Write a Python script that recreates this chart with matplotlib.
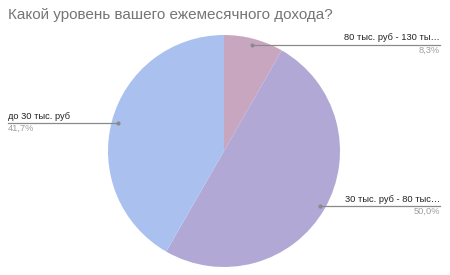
import numpy as np
import matplotlib
matplotlib.use("Agg")
import matplotlib.pyplot as plt

plt.rcParams['font.family'] = ['Liberation Sans', 'DejaVu Sans']

title = "Какой уровень вашего ежемесячного дохода?"
labels = ["80 тыс. руб - 130 ты…", "30 тыс. руб - 80 тыс…", "до 30 тыс. руб"]
values = [8.3, 50.0, 41.7]
pct_labels = ["8,3%", "50,0%", "41,7%"]
colors = ["#c9a6bf", "#b2a8d6", "#aac1ef"]

W, H = 450, 275
fig = plt.figure(figsize=(W / 100, H / 100), dpi=100)

# pie centre (224, 151) px from top, radius 116 px
cx, cy, r = 224, H - 151, 116
ax = fig.add_axes([(cx - r) / W, (cy - r) / H, 2 * r / W, 2 * r / H])
wedges, _ = ax.pie(values, colors=colors, startangle=90, counterclock=False,
                   radius=1, wedgeprops=dict(linewidth=0))
ax.set_xlim(-1, 1)
ax.set_ylim(-1, 1)
ax.set_aspect('equal')
ax.axis('off')

fig.text(8 / W, 1 - 15 / H, title, fontsize=11, color="#757575", va="center", ha="left")

for w, lab, pct in zip(wedges, labels, pct_labels):
    ang = np.deg2rad((w.theta1 + w.theta2) / 2)
    x0, y0 = 0.95 * np.cos(ang), 0.95 * np.sin(ang)
    right = x0 > 0
    xe_px = 440 if right else 8
    xe = (xe_px - cx) / r
    ax.plot([x0, xe], [y0, y0], color="#8a8a8a", lw=0.9, clip_on=False)
    ax.plot([x0], [y0], "o", color="#8a8a8a", ms=2, clip_on=False)
    ha = "right" if right else "left"
    ax.annotate(lab, (xe, y0), xytext=(0, 1.5), textcoords="offset points",
                ha=ha, va="bottom", fontsize=6.7, color="#222222", annotation_clip=False)
    ax.annotate(pct, (xe, y0), xytext=(0, -1), textcoords="offset points",
                ha=ha, va="top", fontsize=6.7, color="#9e9e9e", annotation_clip=False)

fig.savefig("out.png", dpi=100)
